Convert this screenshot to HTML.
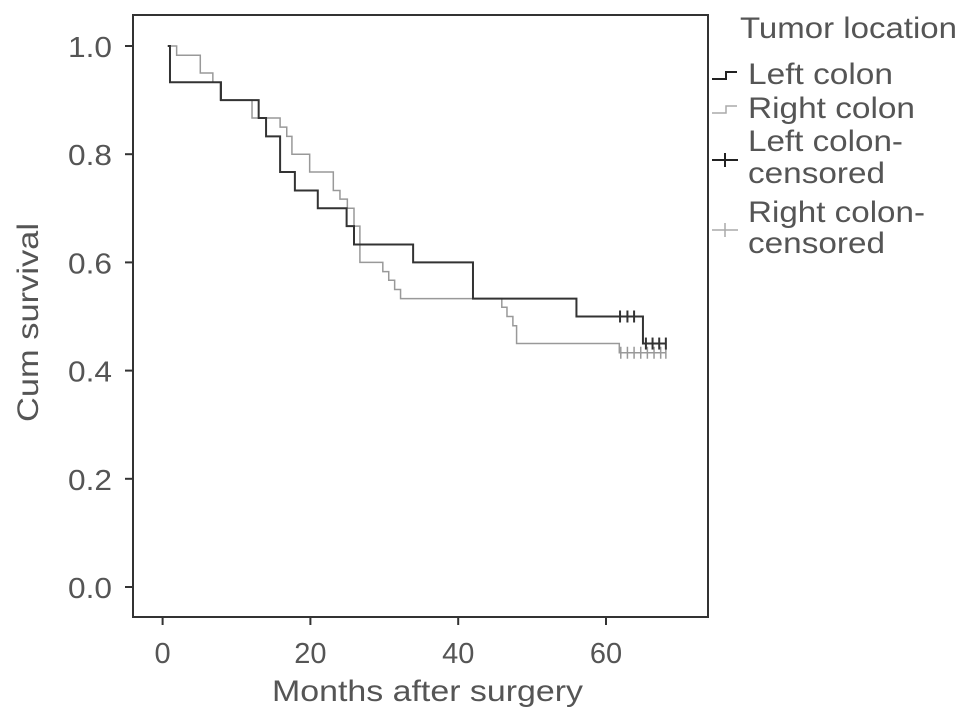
<!DOCTYPE html>
<html><head><meta charset="utf-8"><style>
body{margin:0;background:#fff;}
svg{display:block;font-family:"Liberation Sans",sans-serif;}
</style></head><body>
<svg id="chart" width="969" height="725">
<rect x="133" y="15" width="575" height="602" fill="none" stroke="#333" stroke-width="2"/>
<g id="axes"></g>
<g id="series"></g>
<text x="272" y="701" textLength="311" lengthAdjust="spacingAndGlyphs" font-size="30" fill="#555">Months after surgery</text>
<text transform="translate(38,422) rotate(-90)" textLength="199" lengthAdjust="spacingAndGlyphs" font-size="30" fill="#555">Cum survival</text>
<g font-size="30" fill="#555">
<text x="740" y="38" textLength="217" lengthAdjust="spacingAndGlyphs">Tumor location</text>
<g>
<path d="M712,79 H726 V72 H737" fill="none" stroke="#222" stroke-width="2"/>
<text x="748" y="84" textLength="145" lengthAdjust="spacingAndGlyphs">Left colon</text></g>
<g>
<path d="M712,113 H726 V106 H737" fill="none" stroke="#aaa" stroke-width="1.5"/>
<text x="748" y="118" textLength="167" lengthAdjust="spacingAndGlyphs">Right colon</text></g>
<g>
<path d="M712,160 H738 M725,153 V167" fill="none" stroke="#222" stroke-width="2"/>
<text x="748" y="151" textLength="155" lengthAdjust="spacingAndGlyphs">Left colon-</text><text x="748" y="183" textLength="137" lengthAdjust="spacingAndGlyphs">censored</text></g>
<g>
<path d="M712,230 H738 M725,223 V237" fill="none" stroke="#aaa" stroke-width="1.5"/>
<text x="748" y="222" textLength="177" lengthAdjust="spacingAndGlyphs">Right colon-</text><text x="748" y="253" textLength="137" lengthAdjust="spacingAndGlyphs">censored</text></g>
</g>
</svg>
<script>
const xTicks=[0,20,40,60];
const yTicks=[0.0,0.2,0.4,0.6,0.8,1.0];
const leftStart=0.7;
const leftTimes=[1.0,7.9,13.0,14.0,15.9,17.9,21.0,24.9,25.9,33.9,42.0,56.0,65.0];
const leftSurv=[0.933,0.9,0.867,0.833,0.767,0.733,0.70,0.667,0.633,0.60,0.533,0.50,0.45];
const leftCensorT=[61.9,62.9,63.8,65.4,66.3,67.2,68.1];
const rightStart=0.7;
const rightTimes=[1.9,5.1,6.8,7.8,12.1,15.9,16.8,17.5,19.9,23.1,24.0,25.0,25.9,26.7,29.8,30.6,31.4,32.2,45.9,46.6,47.4,47.9,61.8];
const rightSurv=[0.983,0.95,0.933,0.9,0.867,0.85,0.833,0.80,0.767,0.733,0.717,0.70,0.667,0.60,0.583,0.567,0.55,0.533,0.517,0.50,0.483,0.45,0.433];
const rightCensorT=[62.0,62.9,63.8,64.7,65.6,66.5,67.4,68.1];
const X=t=>162.6+t*7.39;
const Y=s=>587-s*541;
const NS="http://www.w3.org/2000/svg";
const axes=document.getElementById('axes'),ser=document.getElementById('series');
function mk(tag,at,parent){const e=document.createElementNS(NS,tag);for(const k in at)e.setAttribute(k,at[k]);parent.appendChild(e);return e;}
xTicks.forEach(v=>{
 const l=mk('line',{x1:X(v),x2:X(v),y1:617,y2:625,stroke:'#333','stroke-width':2},axes);
 
 
 const t=mk('text',{x:X(v),y:663,'text-anchor':'middle','font-size':29,fill:'#555'},axes);t.textContent=v;
 
 
});
yTicks.forEach(v=>{
 const l=mk('line',{x1:125,x2:133,y1:Y(v),y2:Y(v),stroke:'#333','stroke-width':2},axes);
 
 
 const t=mk('text',{x:112,y:Y(v)+11,'text-anchor':'end','font-size':29,fill:'#555',textLength:44,lengthAdjust:'spacingAndGlyphs'},axes);t.textContent=v.toFixed(1);
 
 
});
function curve(start,times,surv,cens,color,w,name){
 let d='M'+X(start)+','+Y(1);
 times.forEach((t,i)=>{d+=' H'+X(t)+' V'+Y(surv[i]);});
 const endT=Math.max(times[times.length-1],cens[cens.length-1]);
 d+=' H'+X(endT);
 const p=mk('path',{d:d,fill:'none',stroke:color,'stroke-width':w},ser);
 
 
 cens.forEach(t=>{
  let v=1;times.forEach((tt,i)=>{if(tt<=t)v=surv[i];});
  const c=mk('path',{d:'M'+X(t)+','+(Y(v)-6)+' V'+(Y(v)+6),stroke:color,'stroke-width':w},ser);
  
  
 });
}
curve(rightStart,rightTimes,rightSurv,rightCensorT,'#999',1.5,'right-colon');
curve(leftStart,leftTimes,leftSurv,leftCensorT,'#333',2,'left-colon');
</script>
</body></html>
